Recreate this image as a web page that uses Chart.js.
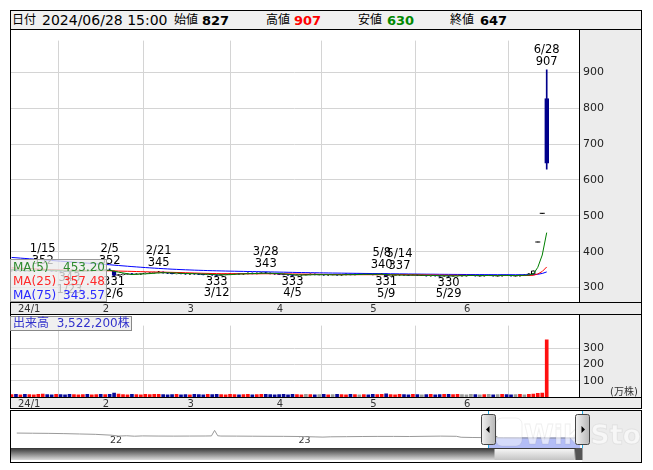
<!DOCTYPE html>
<html>
<head>
<meta charset="utf-8">
<script src="https://cdn.jsdelivr.net/npm/chart.js@4.4.1/dist/chart.umd.min.js"></script>
<style>
  body { margin: 0; background: #fff; }
  #wrap { position: relative; width: 653px; height: 470px; overflow: hidden; font-family: "DejaVu Sans", "Noto Sans CJK JP", sans-serif; }
  canvas { position: absolute; left: 10px; }
  #head { position: absolute; left: 10px; top: 10px; width: 632px; height: 20px; box-sizing: border-box; border: 1px solid #000; background: #f0f0f0; }
  #head span { position: absolute; top: 0; line-height: 18px; font-size: 14px; white-space: nowrap; }
  #head span.k { font-size: 12px; }
  #head b { font-size: 13px; }
  .box { position: absolute; box-sizing: border-box; border: 1px solid #999; background: rgba(236,236,236,0.78); font-size: 12px; white-space: nowrap; }
  .row { position: relative; height: 14px; line-height: 14px; }
  .row .v { position: absolute; right: 0; top: 0; }
</style>
</head>
<body>
<div id="wrap">
  <div id="head"></div>
  <canvas id="price" width="632" height="285" style="top:30px"></canvas>
  <canvas id="volume" width="632" height="94" style="top:315px"></canvas>
  <canvas id="nav" width="632" height="53" style="top:410px"></canvas>
  <div class="box" id="maBox" style="left:10px;top:259px;width:97px;height:43px;padding:0 1px 0 2px"></div>
  <div class="box" id="volBox" style="left:10px;top:316px;width:122px;height:15px;line-height:13px;padding-left:2px;color:#3333cc;border-color:#888"></div>
</div>
<script>
// ---- daily data 2023/12/29 .. 2024/06/28 ----
const dates = ['12/29',
  '1/4','1/5','1/9','1/10','1/11','1/12','1/15','1/16','1/17','1/18','1/19','1/22','1/23','1/24','1/25','1/26','1/29','1/30','1/31',
  '2/1','2/2','2/5','2/6','2/7','2/8','2/9','2/13','2/14','2/15','2/16','2/19','2/20','2/21','2/22','2/26','2/27','2/28','2/29',
  '3/1','3/4','3/5','3/6','3/7','3/8','3/11','3/12','3/13','3/14','3/15','3/18','3/19','3/21','3/22','3/25','3/26','3/27','3/28','3/29',
  '4/1','4/2','4/3','4/4','4/5','4/8','4/9','4/10','4/11','4/12','4/15','4/16','4/17','4/18','4/19','4/22','4/23','4/24','4/25','4/26','4/30',
  '5/1','5/2','5/7','5/8','5/9','5/10','5/13','5/14','5/15','5/16','5/17','5/20','5/21','5/22','5/23','5/24','5/27','5/28','5/29','5/30','5/31',
  '6/3','6/4','6/5','6/6','6/7','6/10','6/11','6/12','6/13','6/14','6/17','6/18','6/19','6/20','6/21','6/24','6/25','6/26','6/27','6/28'];

const opens = [348,
  349,347,348,346,347,348,349,350,348,346,347,346,345,344,346,347,348,347,348,
  349,348,349,346,334,336,337,338,337,338,339,340,341,342,343,341,340,339,340,
  339,338,339,338,337,336,337,335,334,336,337,338,339,338,339,340,339,340,341,340,
  339,338,337,336,335,334,335,336,336,337,336,336,335,336,336,335,336,337,336,337,337,
  338,337,336,337,338,333,334,335,336,335,334,335,334,334,333,334,333,332,333,332,333,
  334,333,334,334,333,333,334,334,333,333,334,334,333,333,334,335,338,427,507,827];
const highs = [350,
  351,349,350,348,349,350,352,351,349,348,348,347,346,347,348,349,349,349,350,
  351,350,352,346,337,338,339,340,339,340,341,342,343,345,344,342,341,341,341,
  340,340,340,339,338,338,338,336,337,338,339,340,340,340,341,341,341,342,343,341,
  340,339,338,337,336,336,337,337,338,338,337,337,337,337,337,337,338,338,338,338,339,
  339,338,338,340,338,335,336,337,337,336,336,336,335,335,335,335,334,334,334,334,335,
  335,335,335,335,334,335,335,335,334,335,335,335,334,335,336,339,347,427,507,907];
const lows = [346,
  346,345,346,345,346,347,348,347,346,345,345,344,343,344,345,346,346,346,347,
  347,347,347,331,333,335,336,336,336,337,338,339,340,341,340,339,338,338,338,
  337,337,337,336,335,335,334,333,334,335,336,337,337,337,338,338,338,339,339,338,
  337,336,335,334,333,334,334,335,335,335,335,334,334,335,334,334,335,335,335,336,336,
  336,335,335,336,331,332,333,334,334,333,333,333,333,332,332,332,331,331,330,331,332,
  332,332,333,332,332,332,333,332,332,332,333,332,332,332,333,334,337,427,507,630];
const closes = [349,
  347,348,346,347,348,349,350,348,346,347,346,345,344,346,347,348,347,348,349,
  348,349,348,334,336,337,338,337,338,339,340,341,342,343,341,340,339,340,339,
  338,339,338,337,336,337,335,334,336,337,338,339,338,339,340,339,340,341,340,339,
  338,337,336,335,334,335,336,336,337,336,336,335,336,336,335,336,337,336,337,337,338,
  337,336,337,338,333,334,335,336,335,334,335,334,334,333,334,333,332,333,332,333,334,
  334,334,334,333,333,334,334,333,333,335,334,333,333,335,335,338,347,427,507,647];

const ma5 = [350.5,349.8,349.0,348.0,347.4,347.2,347.6,348.0,348.4,348.2,
  348.0,347.4,346.4,345.6,345.6,345.6,346.0,346.4,347.2,347.8,
  348.0,348.2,348.4,345.6,343.0,340.8,338.6,336.4,337.2,337.8,
  338.4,339.0,340.0,341.0,341.4,341.4,341.0,340.6,339.8,339.2,
  339.0,338.8,338.2,337.6,337.4,336.6,335.8,335.6,335.8,336.0,
  336.8,337.6,338.2,338.8,339.0,339.2,339.8,340.0,339.8,339.6,
  339.0,338.0,337.0,336.0,335.4,335.2,335.2,335.6,336.0,336.2,
  336.0,336.0,335.8,335.6,335.6,336.0,336.0,336.2,336.6,337.0,
  337.0,337.0,337.0,337.2,336.2,335.6,335.4,335.2,334.6,334.8,
  335.0,334.8,334.4,334.0,334.0,333.6,333.2,333.0,332.8,332.6,
  332.8,333.2,333.4,333.8,333.8,333.6,333.6,333.6,333.4,333.4,
  333.8,333.8,333.6,333.6,334.0,334.0,334.8,337.6,356.4,390.8,
  453.20];
const ma25 = [355.0,354.4,353.8,353.2,352.6,352.0,351.5,351.0,350.5,350.0,
  349.6,349.2,348.8,348.4,348.1,347.8,347.6,347.4,347.2,347.1,
  347.0,346.9,346.8,346.4,346.0,345.7,345.4,345.1,344.7,344.4,
  344.1,343.8,343.5,343.3,343.0,342.7,342.4,342.1,341.8,341.4,
  341.0,340.6,340.2,339.8,339.5,339.2,339.0,338.8,338.7,338.6,
  338.5,338.4,338.3,338.3,338.3,338.3,338.4,338.5,338.5,338.5,
  338.4,338.3,338.2,338.0,337.8,337.6,337.4,337.3,337.1,336.9,
  336.7,336.5,336.3,336.2,336.1,336.0,336.0,335.9,335.9,335.9,
  335.9,335.9,335.9,336.0,335.9,335.9,335.9,335.9,335.8,335.7,
  335.6,335.5,335.3,335.2,335.0,334.9,334.7,334.6,334.4,334.3,
  334.2,334.1,334.0,333.9,333.8,333.7,333.7,333.6,333.6,333.6,
  333.6,333.6,333.6,333.6,333.6,333.56,333.72,334.24,338.0,344.92,
  357.48];
const ma75 = [384.0,383.1,382.1,381.2,380.2,379.3,378.3,377.4,376.4,375.5,
  374.5,373.6,372.6,371.7,370.8,369.9,369.0,368.1,367.2,366.3,
  365.4,364.5,363.6,362.5,361.5,360.5,359.5,358.5,357.6,356.7,
  355.8,355.0,354.2,353.4,352.7,352.0,351.3,350.7,350.1,349.6,
  349.1,348.6,348.2,347.8,347.4,347.0,346.7,346.4,346.1,345.8,
  345.6,345.3,345.1,344.8,344.6,344.4,344.1,343.9,343.6,343.4,
  343.1,342.9,342.6,342.4,342.1,341.9,341.7,341.5,341.3,341.1,
  340.9,340.7,340.5,340.4,340.2,340.0,339.9,339.7,339.6,339.4,
  339.3,339.1,339.0,338.8,338.7,338.5,338.4,338.2,338.1,337.9,
  337.8,337.7,337.5,337.4,337.3,337.2,337.0,336.9,336.8,336.7,
  336.6,336.5,336.4,336.3,336.2,336.2,336.1,336.0,336.0,335.9,
  335.9,335.9,335.8,335.8,335.8,335.8,335.8,335.9,337.1,339.4,
  343.57];

// volume in 万株
const volume = [15,
  17,14,16,15,14,16,18,15,14,16,15,14,16,15,14,15,16,14,15,
  16,15,17,24,18,15,14,16,15,14,16,15,17,16,15,14,15,16,14,
  15,14,16,15,14,16,15,17,15,14,16,15,14,15,16,14,15,16,17,15,
  14,15,16,14,17,15,14,16,15,14,15,16,14,15,16,15,14,16,15,14,15,
  14,16,15,16,19,15,14,16,15,14,16,15,14,15,16,14,15,16,17,15,16,
  15,14,16,15,14,15,16,14,15,16,15,14,15,16,14,17,18,22,24,352.22];

const monthTicks = [1, 20, 39, 59, 80, 101];
const monthNames = ['24/1', '2', '3', '4', '5', '6'];
const priceTicks = [300, 400, 500, 600, 700, 800, 900];
const volTicks = [100, 200, 300];
const highMarks = [7, 22, 33, 57, 83, 87, 120];
const lowMarks = [13, 23, 46, 63, 84, 98];

// navigator: long history (months from 2021/07)
const navX = [0,1,2,3,4,5,6,6.5,7,7.5,8,9,10,11,12,12.4,12.6,12.8,13,14,15,16,17,18,19,19.5,20,21,22,23,24,25,26,27,28,28.3,29,30,31,32,33,34,35,35.9];
const navP = [500,495,490,482,470,458,430,400,410,395,405,400,398,400,402,405,590,410,400,398,395,392,390,385,372,365,375,380,385,388,388,385,392,398,392,360,352,348,340,338,336,334,334,335];
const yearTicks = [6, 18, 30];
const yearNames = ['22', '23', '24'];
const navSelStart = 30;

const FONT = '"DejaVu Sans", "Noto Sans CJK JP", sans-serif';
const NAVY = '#00008b';
const last = dates.length - 1;
const isUp = i => closes[i] >= opens[i];

// ---- header / legends ----
document.getElementById('head').innerHTML =
  '<span class="k" style="left:1px">日付</span>' +
  '<span style="left:31px">2024/06/28 15:00</span>' +
  '<span class="k" style="left:163px">始値</span><span style="left:191px"><b>' + opens[last] + '</b></span>' +
  '<span class="k" style="left:255px">高値</span><span style="left:283px"><b style="color:#f00">' + highs[last] + '</b></span>' +
  '<span class="k" style="left:347px">安値</span><span style="left:376px"><b style="color:#080">' + lows[last] + '</b></span>' +
  '<span class="k" style="left:439px">終値</span><span style="left:469px"><b>' + closes[last] + '</b></span>';

document.getElementById('maBox').innerHTML = [
  ['MA(5)', ma5, '#2e8b2e'], ['MA(25)', ma25, '#ff2a2a'], ['MA(75)', ma75, '#2a2aff']
].map(([n, arr, c]) => '<div class="row" style="color:' + c + '"><span>' + n + '</span><span class="v">' + arr[last].toFixed(2) + '</span></div>').join('');

document.getElementById('volBox').innerHTML =
  '出来高&nbsp;&nbsp;' + Math.round(volume[last] * 10000).toLocaleString('en-US') + '株';

// ---- shared pieces ----
function framePlugin(id) {
  return {
    id: id,
    beforeDraw(chart) {
      const { ctx, chartArea: a, width, height } = chart;
      ctx.save();
      ctx.fillStyle = '#fff';
      ctx.fillRect(0, 0, width, height);
      ctx.fillStyle = '#ececec';
      ctx.fillRect(a.right, 0, width - a.right, a.bottom);
      ctx.fillRect(0, a.bottom, width, height - a.bottom);
      ctx.restore();
    },
    afterDraw(chart) {
      const { ctx, chartArea: a, width, height } = chart;
      ctx.save();
      ctx.strokeStyle = '#000';
      ctx.lineWidth = 1;
      ctx.beginPath();
      ctx.moveTo(a.right + 0.5, 0); ctx.lineTo(a.right + 0.5, a.bottom);
      ctx.moveTo(0, a.bottom + 0.5); ctx.lineTo(width, a.bottom + 0.5);
      ctx.moveTo(0, height - 0.5); ctx.lineTo(width, height - 0.5);
      ctx.moveTo(0.5, 0); ctx.lineTo(0.5, height);
      ctx.moveTo(width - 0.5, 0); ctx.lineTo(width - 0.5, height);
      ctx.stroke();
      ctx.restore();
    }
  };
}

function xScale(h) {
  return {
    type: 'linear', min: -0.34, max: 127.24, offset: false,
    afterFit: s => { s.height = h; },
    afterBuildTicks: s => { s.ticks = monthTicks.map(v => ({ value: v })); },
    grid: { color: '#d4d4d4', drawTicks: false },
    border: { display: false },
    ticks: {
      autoSkip: false, maxRotation: 0, align: 'start', labelOffset: 2, padding: 1,
      color: '#333', font: { family: FONT, size: 10 },
      callback: v => monthNames[monthTicks.indexOf(v)]
    }
  };
}

function yScale(min, max, ticks) {
  return {
    type: 'linear', position: 'right', min: min, max: max,
    afterFit: s => { s.width = 63; },
    afterBuildTicks: s => { s.ticks = ticks.map(v => ({ value: v })); },
    grid: { color: '#d4d4d4', drawTicks: false },
    border: { display: false },
    ticks: { padding: 4, color: '#222', font: { family: FONT, size: 11 }, callback: v => v }
  };
}

const baseOpts = {
  responsive: false, animation: false, devicePixelRatio: 1,
  layout: { padding: 0, autoPadding: false },
  plugins: { legend: { display: false }, tooltip: { enabled: false } }
};

// ---- price chart ----
const wicks = dates.map((d, i) => ({ x: i, y: [lows[i], highs[i]] }));
const bodies = dates.map((d, i) => ({ x: i, y: [Math.min(opens[i], closes[i]), Math.max(opens[i], closes[i])] }))
  .filter(p => p.y[0] !== p.y[1]);
const flats = dates.map((d, i) => ({ x: i, y: closes[i] })).filter(p => opens[p.x] === closes[p.x]);
const line = arr => arr.map((v, i) => ({ x: i, y: v }));

const marksPlugin = {
  id: 'marks',
  afterDatasetsDraw(chart) {
    const { ctx, scales: { x, y } } = chart;
    ctx.save();
    ctx.font = '11.5px ' + FONT;
    ctx.fillStyle = '#000';
    ctx.textAlign = 'center';
    ctx.textBaseline = 'middle';
    highMarks.forEach(i => {
      const px = x.getPixelForValue(i), py = y.getPixelForValue(highs[i]);
      ctx.fillText(String(highs[i]), px, py - 8);
      ctx.fillText(dates[i], px, py - 20);
    });
    lowMarks.forEach(i => {
      const px = x.getPixelForValue(i), py = y.getPixelForValue(lows[i]);
      ctx.fillText(String(lows[i]), px, py + 6);
      ctx.fillText(dates[i], px, py + 17.5);
    });
    ctx.restore();
  }
};

new Chart(document.getElementById('price'), {
  type: 'bar',
  data: {
    datasets: [
      { type: 'line', order: 0, data: line(ma5), borderColor: '#008000', borderWidth: 1, pointRadius: 0 },
      { type: 'line', order: 1, data: line(ma25), borderColor: '#ff0000', borderWidth: 1, pointRadius: 0 },
      { type: 'line', order: 2, data: line(ma75), borderColor: '#0000ff', borderWidth: 1, pointRadius: 0 },
      { type: 'line', order: 3, data: flats, showLine: false, pointStyle: 'line', pointRadius: 2.5,
        pointBorderWidth: 1, borderColor: '#000', pointBorderColor: '#000' },
      { order: 4, data: bodies, barThickness: 4, grouped: false, borderSkipped: false, borderWidth: 1,
        backgroundColor: c => (c.raw && !isUp(c.raw.x)) ? NAVY : '#fff',
        borderColor: c => (c.raw && !isUp(c.raw.x)) ? NAVY : '#000' },
      { order: 5, data: wicks, barThickness: 1, grouped: false, borderWidth: 0,
        backgroundColor: c => (c.raw && !isUp(c.raw.x)) ? NAVY : '#000' }
    ]
  },
  options: Object.assign({}, baseOpts, {
    scales: { x: xScale(13), y: yScale(259.8, 988.4, priceTicks) }
  }),
  plugins: [framePlugin('framePrice'), marksPlugin]
});

// ---- volume chart ----
const volColor = c => {
  if (!c.raw) return '#999';
  const i = c.raw.x;
  if (i === 0 || closes[i] > closes[i - 1]) return '#ff1010';
  if (closes[i] < closes[i - 1]) return '#0a0a99';
  return '#999';
};

const unitPlugin = {
  id: 'unit',
  afterDraw(chart) {
    const { ctx, chartArea: a } = chart;
    ctx.save();
    ctx.font = '10px ' + FONT;
    ctx.fillStyle = '#333';
    ctx.textBaseline = 'middle';
    ctx.fillText('(万株)', a.right + 31, a.bottom - 5);
    ctx.restore();
  }
};

new Chart(document.getElementById('volume'), {
  type: 'bar',
  data: {
    datasets: [{ data: volume.map((v, i) => ({ x: i, y: v })), barThickness: 3, borderWidth: 0, backgroundColor: volColor }]
  },
  options: Object.assign({}, baseOpts, {
    scales: { x: xScale(12), y: yScale(0, 439.3, volTicks) }
  }),
  plugins: [framePlugin('frameVol'), unitPlugin]
});

// ---- navigator ----
const navPlugin = {
  id: 'nav',
  beforeDraw(chart) {
    const { ctx, chartArea: a, width, height } = chart;
    ctx.save();
    ctx.fillStyle = '#fff';
    ctx.fillRect(0, 0, width, height);
    ctx.fillStyle = '#ececec';
    ctx.fillRect(a.right, 0, width - a.right, height);
    ctx.font = '9.5px ' + FONT;
    ctx.fillStyle = '#333';
    ctx.textBaseline = 'middle';
    yearTicks.forEach((t, k) => ctx.fillText(yearNames[k], chart.scales.x.getPixelForValue(t) - 1, 31));
    ctx.restore();
  },
  afterDraw(chart) {
    const { ctx, chartArea: a, width, height } = chart;
    const sx = Math.round(chart.scales.x.getPixelForValue(navSelStart)) + 0.5;
    const ex = a.right + 0.5;
    ctx.save();
    // watermark
    ctx.font = 'bold 27px ' + FONT;
    ctx.fillStyle = 'rgba(255,255,255,0.6)';
    ctx.strokeStyle = 'rgba(120,120,120,0.12)';
    ctx.lineWidth = 1;
    ctx.fillText('WikiStock', 514, 34);
    ctx.strokeText('WikiStock', 514, 34);
    ctx.beginPath();
    ctx.roundRect(486, 8, 26, 28, 6);
    ctx.fillStyle = 'rgba(255,255,255,0.45)';
    ctx.fill();
    ctx.stroke();
    // selection lines
    ctx.strokeStyle = '#27a9e1';
    ctx.beginPath();
    ctx.moveTo(sx, 0); ctx.lineTo(sx, a.bottom);
    ctx.moveTo(ex, 0); ctx.lineTo(ex, a.bottom);
    ctx.stroke();
    // scrollbar
    const sb = a.bottom, sh = 12;
    let g = ctx.createLinearGradient(0, sb, 0, sb + sh);
    g.addColorStop(0, '#333'); g.addColorStop(1, '#dcdcdc');
    ctx.fillStyle = g;
    ctx.fillRect(0, sb, a.right, sh);
    g = ctx.createLinearGradient(0, sb, 0, sb + sh);
    g.addColorStop(0, '#fafafa'); g.addColorStop(1, '#c4c4c4');
    ctx.fillStyle = g;
    ctx.fillRect(sx + 6, sb + 1, ex - sx - 14, sh - 1);
    ctx.fillStyle = '#555';
    ctx.fillRect(ex - 7, sb, 7, sh);
    // handles
    [sx, ex].forEach((hx, k) => {
      const l = Math.round(hx - 7.5);
      g = ctx.createLinearGradient(l, 0, l + 14, 0);
      g.addColorStop(0, '#f4f4f4'); g.addColorStop(1, '#b8b8b8');
      ctx.fillStyle = g;
      ctx.strokeStyle = '#444';
      ctx.beginPath();
      ctx.roundRect(l + 0.5, 4.5, 14, 30, 2);
      ctx.fill();
      ctx.stroke();
      ctx.fillStyle = '#000';
      ctx.beginPath();
      if (k === 0) { ctx.moveTo(l + 5, 19.5); ctx.lineTo(l + 8.5, 16); ctx.lineTo(l + 8.5, 23); }
      else { ctx.moveTo(l + 10, 19.5); ctx.lineTo(l + 6.5, 16); ctx.lineTo(l + 6.5, 23); }
      ctx.fill();
    });
    // frame
    ctx.strokeStyle = '#000';
    ctx.beginPath();
    ctx.moveTo(0, 0.5); ctx.lineTo(width, 0.5);
    ctx.moveTo(0, height - 0.5); ctx.lineTo(width, height - 0.5);
    ctx.moveTo(0.5, 0); ctx.lineTo(0.5, height);
    ctx.moveTo(width - 0.5, 0); ctx.lineTo(width - 0.5, height);
    ctx.stroke();
    ctx.restore();
  }
};

const navAll = navX.map((x, k) => ({ x: x, y: navP[k] }));
new Chart(document.getElementById('nav'), {
  type: 'line',
  data: {
    datasets: [
      { data: navAll, borderColor: '#9a9a9a', borderWidth: 1, pointRadius: 0, fill: false },
      { data: navAll.filter(p => p.x >= navSelStart), borderColor: '#8e9cf0', backgroundColor: '#b3bdf6',
        borderWidth: 1, pointRadius: 0, fill: 'start' }
    ]
  },
  options: Object.assign({}, baseOpts, {
    layout: { padding: { left: 0, right: 60, top: 0, bottom: 15 }, autoPadding: false },
    scales: {
      x: { type: 'linear', display: false, min: -0.43, max: 36.0 },
      y: { display: false, min: 0, max: 1273 }
    }
  }),
  plugins: [navPlugin]
});
</script>
</body>
</html>
